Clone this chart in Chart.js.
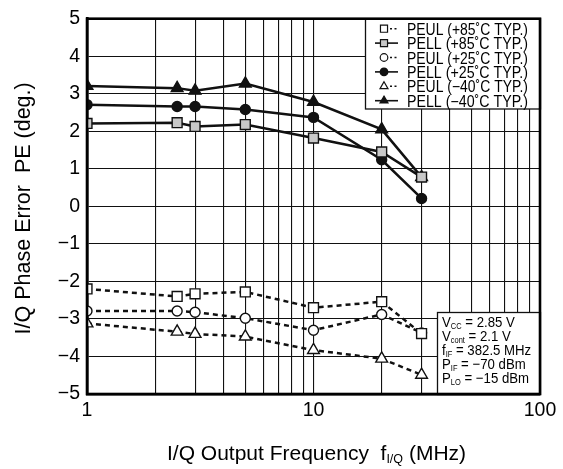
<!DOCTYPE html>
<html>
<head>
<meta charset="utf-8">
<script src="https://cdn.jsdelivr.net/npm/chart.js@4.4.1/dist/chart.umd.min.js"></script>
<style>
  html, body { margin: 0; padding: 0; background: #fff; }
  #wrap { width: 563px; height: 469px; position: relative; }
</style>
</head>
<body>
<div id="wrap"><canvas id="chart"></canvas></div>
<script>
// I/Q output frequency (MHz) at which each point was measured
const freqMHz = [1, 2.5, 3, 5, 10, 20, 30];

// Phase error (deg.) per sideband and temperature
const peul85  = [-2.20, -2.40, -2.33, -2.28, -2.70, -2.54, -3.39];
const pell85  = [ 2.21,  2.23,  2.13,  2.18,  1.82,  1.45,  0.78];
const peul25  = [-2.79, -2.79, -2.82, -2.98, -3.30, -2.88, -3.37];
const pell25  = [ 2.71,  2.66,  2.66,  2.58,  2.37,  1.24,  0.21];
const peulM40 = [-3.12, -3.34, -3.40, -3.47, -3.83, -4.06, -4.49];
const pellM40 = [ 3.21,  3.15,  3.08,  3.27,  2.78,  2.05,  0.78];

const seriesLabels = [
  'PEUL (+85\u02DAC TYP.)',
  'PELL (+85\u02DAC TYP.)',
  'PEUL (+25\u02DAC TYP.)',
  'PELL (+25\u02DAC TYP.)',
  'PEUL (\u221240\u02DAC TYP.)',
  'PELL (\u221240\u02DAC TYP.)'
];

// Log-axis grid positions and the decades that carry a label
const xGridValues = [1, 2, 3, 4, 5, 6, 7, 8, 9, 10, 20, 30, 40, 50, 60, 70, 80, 90, 100];
const xTickLabels = ['1', '10', '100'];

// Y axis range / step
const yMin = -5, yMax = 5, yStep = 1;

const conditionLines = [
  ['V', 'CC', ' = 2.85 V'],
  ['V', 'cont', ' = 2.1 V'],
  ['f', 'IF', ' = 382.5 MHz'],
  ['P', 'IF', ' = \u221270 dBm'],
  ['P', 'LO', ' = \u221215 dBm']
];

const FONT = '"Liberation Sans", Arial, Helvetica, sans-serif';
const INK = '#111';

function pts(values) {
  return values.map((v, i) => ({ x: freqMHz[i], y: v }));
}

// marker shape / fill per series: open markers for PEUL (dashed), filled for PELL (solid)
const seriesStyle = [
  { data: peul85,  shape: 'rect',     fill: '#fff',    dashed: true,  r: 7 },
  { data: pell85,  shape: 'rect',     fill: '#c8c8c8', dashed: false, r: 7 },
  { data: peul25,  shape: 'circle',   fill: '#fff',    dashed: true,  r: 5 },
  { data: pell25,  shape: 'circle',   fill: INK,       dashed: false, r: 5 },
  { data: peulM40, shape: 'triangle', fill: '#fff',    dashed: true,  r: 6.8 },
  { data: pellM40, shape: 'triangle', fill: INK,       dashed: false, r: 6.8 }
];

const datasets = seriesStyle.map((s, i) => ({
  label: seriesLabels[i],
  data: pts(s.data),
  borderColor: INK,
  borderWidth: 2.5,
  borderDash: s.dashed ? [5, 4] : [],
  pointStyle: s.shape,
  pointRadius: s.r,
  pointHoverRadius: s.r,
  pointBackgroundColor: s.fill,
  pointBorderColor: INK,
  pointBorderWidth: 1.4,
  tension: 0,
  fill: false
}));

function drawMarker(ctx, shape, x, y, r, fill) {
  ctx.save();
  ctx.beginPath();
  if (shape === 'rect') {
    const h = r * Math.SQRT1_2;
    ctx.rect(x - h, y - h, 2 * h, 2 * h);
  } else if (shape === 'circle') {
    ctx.arc(x, y, r, 0, Math.PI * 2);
  } else {
    for (let k = 0; k < 3; k++) {
      const a = k * 2 * Math.PI / 3;
      const px = x + Math.sin(a) * r, py = y - Math.cos(a) * r;
      if (k === 0) ctx.moveTo(px, py); else ctx.lineTo(px, py);
    }
    ctx.closePath();
  }
  ctx.fillStyle = fill;
  ctx.fill();
  ctx.lineWidth = 1.2;
  ctx.strokeStyle = INK;
  ctx.stroke();
  ctx.restore();
}

// text with a subscript run: [main, sub, rest]
function subText(ctx, parts, x, y, size, subSize, condense) {
  ctx.save();
  ctx.translate(x, y);
  ctx.scale(condense, 1);
  let cx = 0;
  ctx.font = size + 'px ' + FONT;
  ctx.fillText(parts[0], cx, 0);
  cx += ctx.measureText(parts[0]).width;
  ctx.font = subSize + 'px ' + FONT;
  ctx.fillText(parts[1], cx, size * 0.12);
  cx += ctx.measureText(parts[1]).width;
  ctx.font = size + 'px ' + FONT;
  ctx.fillText(parts[2], cx, 0);
  ctx.restore();
}

const decorations = {
  id: 'decorations',
  afterDatasetsDraw(chart) {
    const ctx = chart.ctx;
    const a = chart.chartArea;
    ctx.save();
    ctx.fillStyle = '#000';
    ctx.textBaseline = 'alphabetic';

    // legend box in the upper-right corner of the plot
    const lx0 = 365, ly1 = 109;
    ctx.fillStyle = '#fff';
    ctx.fillRect(lx0, a.top, a.right - lx0, ly1 - a.top);
    ctx.strokeStyle = INK;
    ctx.lineWidth = 1.3;
    ctx.strokeRect(lx0 + 0.5, a.top, a.right - lx0, ly1 - a.top);
    const rowY0 = a.top + 10, rowStep = 14.4;
    seriesStyle.forEach((s, i) => {
      const y = rowY0 + i * rowStep;
      ctx.save();
      ctx.strokeStyle = INK;
      ctx.lineWidth = 1.6;
      if (s.dashed) {
        ctx.setLineDash([2, 2.5]);
        ctx.beginPath(); ctx.moveTo(390, y); ctx.lineTo(398, y); ctx.stroke();
      } else {
        ctx.beginPath(); ctx.moveTo(375, y); ctx.lineTo(398, y); ctx.stroke();
      }
      ctx.restore();
      const mr = s.shape === 'rect' ? 5 : (s.shape === 'circle' ? 3.8 : 4.6);
      drawMarker(ctx, s.shape, 384, y, mr, s.fill);
      ctx.save();
      ctx.fillStyle = '#000';
      ctx.font = '16px ' + FONT;
      const w = ctx.measureText(seriesLabels[i]).width;
      ctx.translate(407, y + 6);
      ctx.scale(121 / w, 1);
      ctx.fillText(seriesLabels[i], 0, 0);
      ctx.restore();
    });

    // operating-condition box in the lower-right corner
    const bx0 = 437, by0 = 312;
    ctx.fillStyle = '#fff';
    ctx.fillRect(bx0, by0, a.right - bx0, a.bottom - by0);
    ctx.strokeStyle = INK;
    ctx.lineWidth = 1.3;
    ctx.strokeRect(bx0 + 0.5, by0 + 0.5, a.right - bx0, a.bottom - by0);
    ctx.fillStyle = '#000';
    conditionLines.forEach((ln, i) => {
      subText(ctx, ln, 442, 327 + i * 14, 15, 8.5, 0.88);
    });

    // plot frame
    ctx.strokeStyle = '#000';
    ctx.lineWidth = 2.6;
    ctx.strokeRect(a.left, a.top, a.right - a.left, a.bottom - a.top);

    // x-axis title with subscript
    ctx.fillStyle = '#000';
    const xt = ['I/Q Output Frequency  f', 'I/Q', ' (MHz)'];
    ctx.font = '21px ' + FONT;
    const w0 = ctx.measureText(xt[0]).width + ctx.measureText(xt[2]).width;
    ctx.font = '12.5px ' + FONT;
    const w1 = ctx.measureText(xt[1]).width;
    const cx = (a.left + a.right) / 2 + 3;
    subText(ctx, xt, cx - (w0 + w1) / 2, 460, 21, 12.5, 1);

    // y-axis title, rotated
    ctx.save();
    ctx.translate(30, (a.top + a.bottom) / 2 + 2);
    ctx.rotate(-Math.PI / 2);
    ctx.font = '21.5px ' + FONT;
    ctx.textAlign = 'center';
    ctx.fillText('I/Q Phase Error  PE (deg.)', 0, 0);
    ctx.restore();

    ctx.restore();
  }
};

new Chart(document.getElementById('chart'), {
  type: 'line',
  data: { datasets },
  plugins: [decorations],
  options: {
    responsive: true,
    maintainAspectRatio: false,
    animation: false,
    devicePixelRatio: 1,
    layout: { padding: { top: 14, right: 23, left: 0, bottom: 0 } },
    plugins: {
      legend: { display: false },
      tooltip: { enabled: false },
      title: { display: false }
    },
    scales: {
      x: {
        type: 'logarithmic',
        min: 1,
        max: 100,
        afterBuildTicks(scale) {
          scale.ticks = xGridValues.map(v => ({ value: v }));
        },
        afterFit(scale) { scale.height = 75; },
        ticks: {
          autoSkip: false,
          maxRotation: 0,
          padding: 5,
          color: '#000',
          font: { family: FONT, size: 19.5 },
          callback(value) {
            const s = String(value);
            return xTickLabels.includes(s) ? s : '';
          }
        },
        grid: { color: INK, lineWidth: 1.1, drawTicks: false },
        border: { display: true, color: '#000', width: 2.6 }
      },
      y: {
        type: 'linear',
        min: yMin,
        max: yMax,
        afterFit(scale) { scale.width = 87; },
        ticks: {
          stepSize: yStep,
          padding: 7,
          color: '#000',
          font: { family: FONT, size: 19.5 },
          callback(value) { return String(value).replace('-', '\u2212'); }
        },
        grid: { color: INK, lineWidth: 1.1, drawTicks: false },
        border: { display: true, color: '#000', width: 2.6 }
      }
    }
  }
});
</script>
</body>
</html>
